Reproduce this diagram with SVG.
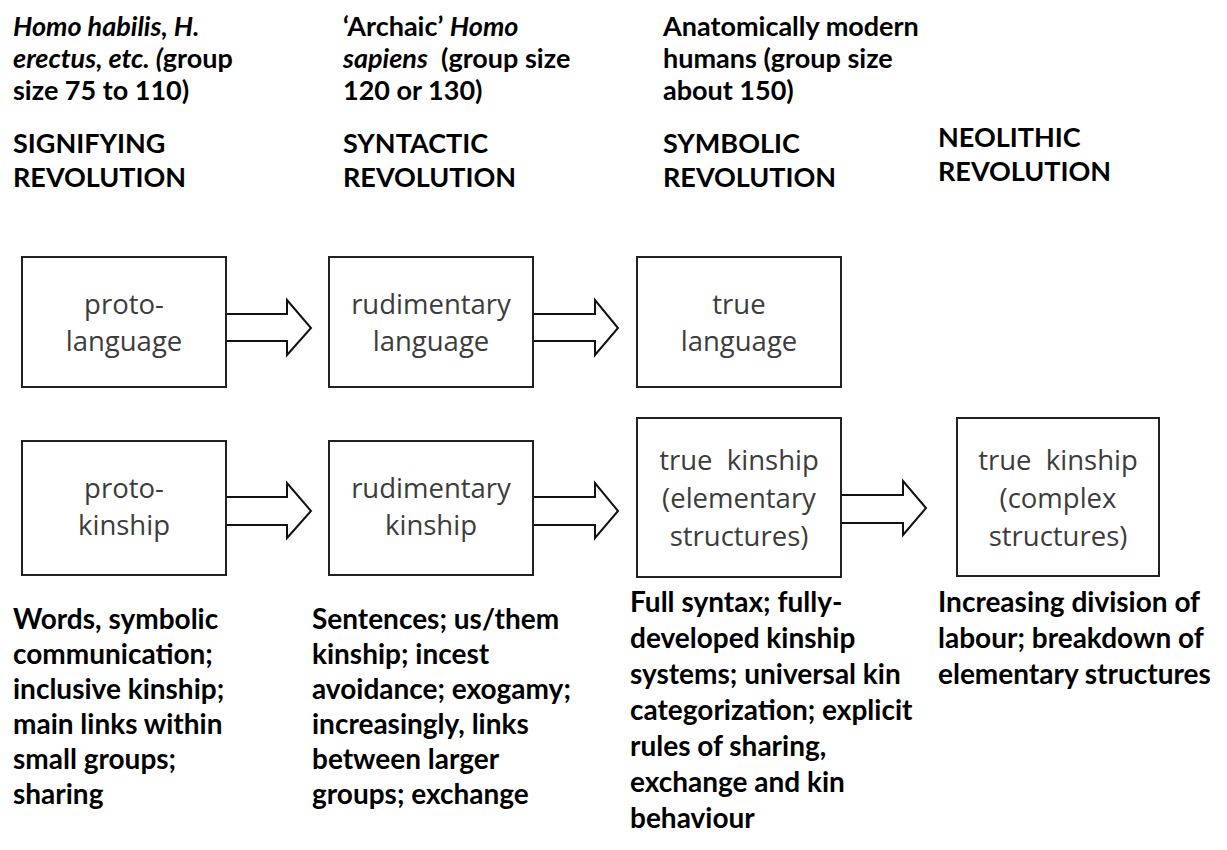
<svg xmlns="http://www.w3.org/2000/svg" width="1227" height="850" viewBox="0 0 1227 850">
<style>
.hd{font-family:Lato,"Liberation Sans",sans-serif;font-weight:700;font-size:27px;fill:#000}
.ds{font-family:Lato,"Liberation Sans",sans-serif;font-weight:700;font-size:28px;fill:#000}
.it{font-style:italic}
.bx{fill:#fff;stroke:#222;stroke-width:2}
.bt{font-family:"Open Sans","Liberation Sans",sans-serif;font-weight:400;font-size:27.5px;fill:#3c3c3c;text-anchor:middle;white-space:pre}
.ar{fill:#fff;stroke:#111;stroke-width:2;stroke-linejoin:miter}
</style>
<g id="headers">
<text class="hd" x="13" y="36"><tspan class="it">Homo habilis, H.</tspan></text>
<text class="hd" x="13" y="68"><tspan class="it">erectus, etc. (</tspan>group</text>
<text class="hd" x="13" y="100">size 75 to 110)</text>
<text class="hd" x="13" y="153">SIGNIFYING</text>
<text class="hd" x="13" y="187">REVOLUTION</text>
<text class="hd" x="343" y="36">‘Archaic’ <tspan class="it">Homo</tspan></text>
<text class="hd" x="343" y="68" style="white-space:pre"><tspan class="it">sapiens</tspan>  (group size</text>
<text class="hd" x="343" y="100">120 or 130)</text>
<text class="hd" x="343" y="153">SYNTACTIC</text>
<text class="hd" x="343" y="187">REVOLUTION</text>
<text class="hd" x="663" y="36">Anatomically modern</text>
<text class="hd" x="663" y="68">humans (group size</text>
<text class="hd" x="663" y="100">about 150)</text>
<text class="hd" x="663" y="153">SYMBOLIC</text>
<text class="hd" x="663" y="187">REVOLUTION</text>
<text class="hd" x="938" y="147">NEOLITHIC</text>
<text class="hd" x="938" y="181">REVOLUTION</text>
</g>
<g id="connectors">
<path class="ar" d="M226,314 H287 V300 L311,328 L287,355 V341 H226"/>
<path class="ar" d="M533,314 H595 V300 L618,328 L595,355 V341 H533"/>
<path class="ar" d="M226,497 H287 V483 L311,511 L287,538 V525 H226"/>
<path class="ar" d="M533,497 H595 V483 L618,511 L595,538 V525 H533"/>
<path class="ar" d="M841,495 H903 V481 L926,508 L903,535 V523 H841"/>
</g>
<g id="n-protolanguage"><rect class="bx" x="22" y="257" width="204" height="130"/>
<text class="bt" x="124" y="314">proto-</text><text class="bt" x="124" y="351">language</text></g>
<g id="n-rudlanguage"><rect class="bx" x="329" y="257" width="204" height="130"/>
<text class="bt" x="431" y="314">rudimentary</text><text class="bt" x="431" y="351">language</text></g>
<g id="n-truelanguage"><rect class="bx" x="637" y="257" width="204" height="130"/>
<text class="bt" x="739" y="314">true</text><text class="bt" x="739" y="351">language</text></g>
<g id="n-protokinship"><rect class="bx" x="22" y="441" width="204" height="134"/>
<text class="bt" x="124" y="498">proto-</text><text class="bt" x="124" y="535">kinship</text></g>
<g id="n-rudkinship"><rect class="bx" x="329" y="441" width="204" height="134"/>
<text class="bt" x="431" y="498">rudimentary</text><text class="bt" x="431" y="535">kinship</text></g>
<g id="n-truekinship-elem"><rect class="bx" x="637" y="418" width="204" height="159"/>
<text class="bt" x="739" y="470">true  kinship</text><text class="bt" x="739" y="508">(elementary</text><text class="bt" x="739" y="546">structures)</text></g>
<g id="n-truekinship-complex"><rect class="bx" x="957" y="418" width="202" height="158"/>
<text class="bt" x="1058" y="470">true  kinship</text><text class="bt" x="1058" y="508">(complex</text><text class="bt" x="1058" y="546">structures)</text></g>
<g id="descriptions">
<text class="ds" x="13" y="629">Words, symbolic</text>
<text class="ds" x="13" y="664">communication;</text>
<text class="ds" x="13" y="699">inclusive kinship;</text>
<text class="ds" x="13" y="734">main links within</text>
<text class="ds" x="13" y="769">small groups;</text>
<text class="ds" x="13" y="804">sharing</text>
<text class="ds" x="312" y="629">Sentences; us/them</text>
<text class="ds" x="312" y="664">kinship; incest</text>
<text class="ds" x="312" y="699">avoidance; exogamy;</text>
<text class="ds" x="312" y="734">increasingly, links</text>
<text class="ds" x="312" y="769">between larger</text>
<text class="ds" x="312" y="804">groups; exchange</text>
<text class="ds" x="630" y="612">Full syntax; fully-</text>
<text class="ds" x="630" y="648">developed kinship</text>
<text class="ds" x="630" y="684">systems; universal kin</text>
<text class="ds" x="630" y="720">categorization; explicit</text>
<text class="ds" x="630" y="756">rules of sharing,</text>
<text class="ds" x="630" y="792">exchange and kin</text>
<text class="ds" x="630" y="828">behaviour</text>
<text class="ds" x="938" y="612">Increasing division of</text>
<text class="ds" x="938" y="648">labour; breakdown of</text>
<text class="ds" x="938" y="684">elementary structures</text>
</g>
</svg>
